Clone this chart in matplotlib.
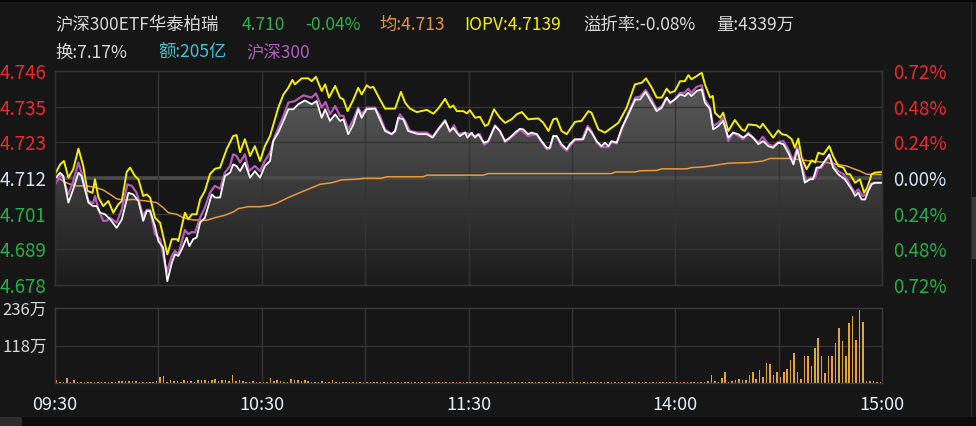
import numpy as np
import matplotlib
matplotlib.use("Agg")
import matplotlib.pyplot as plt
from matplotlib.patches import Polygon, Rectangle
from matplotlib.colors import LinearSegmentedColormap

plt.rcParams['font.family'] = ['Noto Sans CJK SC', 'DejaVu Sans']

# ---- data (minutes since 09:30, trading time; prices) ----
prev_close = 4.712
pct_span = 0.72

price_t = [0, 1.5, 2.4, 3.9, 5.3, 6.8, 7.7, 9.7, 11.1, 12.1,
           13.1, 14.5, 16, 17.9, 19.4, 21.3, 22.7, 24.2, 25.6, 26.6,
           27.6, 29, 30, 31.4, 32.6, 33.9, 34.8, 35.8, 36.8, 38.2,
           39, 40.1, 41.1, 42.1, 43.5, 44.5, 45.5, 46.4, 47.9, 49.3,
           50.8, 51.7, 52.7, 53.7, 55.1, 56.6, 58, 59.5, 60.9, 62.4,
           63.3, 64.8, 66.3, 67.7, 69.2, 70.6, 72.5, 74.5, 75.9, 77.4,
           78.4, 79.8, 81.3, 82.7, 83.7, 85.1, 86.6, 88, 89, 90.4,
           92.9, 94.3, 95.8, 97.7, 98.7, 99.6, 101.1, 102.5, 104, 105.4,
           107.9, 109.6, 111.2, 113.2, 114.6, 115.6, 116.6, 117.5, 119, 119.7,
           120.9, 121.9, 122.8, 124.5, 125.7, 127.7, 129.1, 130.6, 132, 133.5,
           134.9, 135.9, 137.3, 138.3, 139.8, 141.2, 142.7, 143.6, 144.6, 145.6,
           147, 148.5, 149.4, 150.9, 153.3, 154.6, 155.7, 157.2, 158.6, 159.6,
           160.6, 161.5, 163, 164.5, 166.4, 168.4, 169.8, 171.4, 173.2, 174.6,
           176.1, 177.5, 178.5, 179.9, 181.4, 182.8, 183.8, 184.7, 186.2, 187.7,
           188.6, 190.1, 191, 192.5, 193.9, 195.4, 196.8, 198.3, 199.7, 201.2,
           202.6, 204.1, 205.5, 207, 208.4, 209.9, 211.4, 212.8, 214.3, 215.4,
           216.7, 217.6, 219.1, 220, 221, 222, 223.4, 224.7, 225.8, 227.3,
           229.2, 231.2, 232.2, 233.1, 234.1, 235.1, 236, 237, 238, 240]
price = [4.7118, 4.7137, 4.7126, 4.7042, 4.7085, 4.7137, 4.7126, 4.7042, 4.7031, 4.7031,
         4.7010, 4.7005, 4.6989, 4.6962, 4.6989, 4.7073, 4.7068, 4.7047, 4.6984, 4.7015,
         4.7015, 4.6968, 4.6920, 4.6899, 4.6793, 4.6851, 4.6878, 4.6873, 4.6894, 4.6931,
         4.6904, 4.6926, 4.6931, 4.6978, 4.6994, 4.7031, 4.7068, 4.7058, 4.7058, 4.7126,
         4.7137, 4.7163, 4.7158, 4.7142, 4.7169, 4.7121, 4.7142, 4.7121, 4.7158, 4.7174,
         4.7237, 4.7264, 4.7301, 4.7338, 4.7338, 4.7354, 4.7366, 4.7354, 4.7364, 4.7311,
         4.7338, 4.7301, 4.7322, 4.7301, 4.7306, 4.7259, 4.7290, 4.7338, 4.7311, 4.7338,
         4.7340, 4.7306, 4.7269, 4.7259, 4.7269, 4.7311, 4.7306, 4.7269, 4.7264, 4.7259,
         4.7259, 4.7248, 4.7274, 4.7301, 4.7269, 4.7279, 4.7264, 4.7253, 4.7264, 4.7248,
         4.7264, 4.7248, 4.7259, 4.7232, 4.7237, 4.7285, 4.7269, 4.7237, 4.7248, 4.7264,
         4.7276, 4.7274, 4.7259, 4.7264, 4.7259, 4.7237, 4.7216, 4.7216, 4.7253, 4.7253,
         4.7227, 4.7211, 4.7227, 4.7243, 4.7243, 4.7279, 4.7264, 4.7237, 4.7221, 4.7232,
         4.7221, 4.7237, 4.7232, 4.7279, 4.7322, 4.7369, 4.7369, 4.7393, 4.7359, 4.7332,
         4.7343, 4.7375, 4.7359, 4.7369, 4.7385, 4.7380, 4.7390, 4.7380, 4.7396, 4.7401,
         4.7359, 4.7338, 4.7274, 4.7285, 4.7301, 4.7248, 4.7264, 4.7259, 4.7248, 4.7259,
         4.7248, 4.7227, 4.7237, 4.7221, 4.7216, 4.7232, 4.7227, 4.7200, 4.7163, 4.7211,
         4.7153, 4.7105, 4.7116, 4.7116, 4.7153, 4.7153, 4.7174, 4.7195, 4.7153, 4.7132,
         4.7116, 4.7084, 4.7063, 4.7073, 4.7052, 4.7052, 4.7079, 4.7100, 4.7105, 4.7105]

iopv_t = [0, 1.5, 2.6, 3.9, 5.3, 6.8, 8.2, 9.4, 10.9, 11.6,
          12.6, 14, 15.5, 16.9, 18.4, 19.4, 20.8, 21.8, 23.2, 24.2,
          25.6, 26.6, 27.6, 29, 30.5, 32.6, 33.9, 35.3, 35.8, 36.8,
          37.7, 38.7, 39.7, 41.1, 42.1, 43.5, 45, 46.4, 47.9, 49.8,
          51.7, 52.7, 53.7, 55.1, 56.6, 58, 59.5, 60.9, 62.4, 64.8,
          66.3, 67.7, 68.9, 69.6, 71.6, 73.5, 74.5, 75.7, 77.4, 78.4,
          79.5, 81.3, 82.7, 83.7, 84.9, 86.6, 88, 89, 90.5, 91.4,
          92.4, 94.3, 95.8, 98.7, 100.4, 101.6, 103, 105, 107.9, 109.8,
          111.2, 113.2, 114.6, 115.6, 116.6, 118.5, 119.5, 120.4, 121.9, 123.3,
          124.8, 125.7, 127.4, 129.1, 130.6, 132.5, 134, 135.5, 137.3, 140.3,
          141.7, 143.2, 144.6, 145.6, 147, 148.5, 150.9, 152.8, 154.8, 155.7,
          157.7, 159.6, 161.5, 163.5, 165.9, 168.3, 170.3, 171.5, 173.2, 174.6,
          176.1, 177.5, 178.5, 179.9, 181.4, 182.8, 183.8, 184.7, 186.2, 187.7,
          188.6, 190.1, 190.9, 191.5, 193, 193.9, 195.4, 197.3, 199.3, 200.2,
          201.2, 203.6, 204.6, 205.4, 207, 208.4, 209.9, 210.9, 212.3, 213.8,
          214.7, 215.7, 216.7, 218.1, 219.6, 220.6, 221.5, 223, 224.7, 225.8,
          227.3, 228.8, 229.8, 230.7, 232.2, 233.6, 234.8, 235.7, 237, 237.9,
          240]
iopv = [4.7132, 4.7163, 4.7174, 4.7121, 4.7148, 4.7213, 4.7158, 4.7079, 4.7073, 4.7116,
        4.7058, 4.7031, 4.7047, 4.7010, 4.7037, 4.7047, 4.7139, 4.7153, 4.7126, 4.7116,
        4.7063, 4.7068, 4.7058, 4.6994, 4.6978, 4.6878, 4.6926, 4.6926, 4.6920, 4.6968,
        4.7010, 4.6989, 4.7005, 4.7005, 4.7052, 4.7079, 4.7133, 4.7149, 4.7153, 4.7211,
        4.7253, 4.7256, 4.7202, 4.7243, 4.7190, 4.7221, 4.7174, 4.7221, 4.7253, 4.7343,
        4.7385, 4.7406, 4.7431, 4.7417, 4.7436, 4.7436, 4.7427, 4.7441, 4.7396, 4.7417,
        4.7375, 4.7412, 4.7375, 4.7369, 4.7332, 4.7369, 4.7406, 4.7385, 4.7414, 4.7406,
        4.7409, 4.7369, 4.7340, 4.7340, 4.7393, 4.7359, 4.7340, 4.7329, 4.7336, 4.7324,
        4.7340, 4.7371, 4.7343, 4.7350, 4.7332, 4.7332, 4.7325, 4.7335, 4.7311, 4.7314,
        4.7285, 4.7290, 4.7338, 4.7311, 4.7295, 4.7306, 4.7322, 4.7329, 4.7306, 4.7309,
        4.7295, 4.7269, 4.7306, 4.7309, 4.7269, 4.7259, 4.7298, 4.7301, 4.7332, 4.7327,
        4.7274, 4.7264, 4.7279, 4.7295, 4.7343, 4.7417, 4.7422, 4.7436, 4.7406, 4.7375,
        4.7375, 4.7403, 4.7390, 4.7396, 4.7427, 4.7427, 4.7446, 4.7433, 4.7443, 4.7454,
        4.7417, 4.7375, 4.7380, 4.7327, 4.7311, 4.7327, 4.7269, 4.7304, 4.7274, 4.7269,
        4.7290, 4.7287, 4.7279, 4.7292, 4.7269, 4.7248, 4.7271, 4.7259, 4.7256, 4.7243,
        4.7216, 4.7245, 4.7184, 4.7148, 4.7176, 4.7169, 4.7200, 4.7195, 4.7221, 4.7190,
        4.7158, 4.7153, 4.7132, 4.7132, 4.7105, 4.7116, 4.7073, 4.7089, 4.7132, 4.7137,
        4.7139]

# CSI 300 index, drawn on the same percent scale
index_t = [0, 1.9, 3.9, 5.3, 6.8, 7.7, 9.7, 11.1, 11.6, 12.6,
           14, 15, 16, 17.9, 19.4, 21, 22.3, 23.7, 25.6, 26.6,
           27.6, 29, 30.5, 32.4, 33.9, 34.8, 35.8, 37.7, 38.7, 39.7,
           40.6, 42.1, 43.5, 45, 46.4, 47.9, 49.3, 50.8, 51.7, 52.7,
           53.7, 55.1, 56.3, 58, 59.5, 60.9, 62.4, 63.8, 66.3, 67.7,
           69.6, 72.1, 74.5, 75.7, 77.4, 78.5, 79.8, 81.3, 82.7, 83.7,
           85.1, 86.6, 88, 89, 90.5, 92.9, 94.3, 95.8, 97.7, 98.7,
           100.1, 101.6, 103, 105.4, 107.9, 109.6, 113.2, 114.6, 115.8, 117,
           119, 120.4, 121.9, 123.3, 124.5, 125.7, 127.7, 129.1, 130.6, 132,
           134, 134.9, 137.3, 139.8, 141.2, 142.7, 143.6, 144.6, 145.6, 147,
           148.5, 149.4, 150.9, 152.8, 154.6, 155.7, 157.2, 158.6, 160.6, 161.5,
           163, 164.5, 166.4, 168.4, 169.8, 171.4, 173.2, 174.6, 176.1, 177.5,
           178.5, 179.9, 181.4, 182.8, 183.8, 184.7, 186.2, 187.7, 188.6, 190.1,
           191, 192.5, 193.9, 195.4, 196.8, 198.3, 199.7, 201.2, 202.6, 204.1,
           205.4, 207, 208.4, 209.9, 211.4, 212.8, 214.3, 215.4, 216.7, 218,
           219.6, 220.6, 221.5, 222.5, 223.4, 224.7, 225.8, 227.3, 228.8, 230.2,
           231.2, 232.2, 233.1, 234.4, 235.5, 236.5, 237.5, 240]
index_v = [4.7100, 4.7132, 4.7068, 4.7110, 4.7169, 4.7137, 4.7047, 4.7040, 4.7063, 4.7021,
           4.6984, 4.6984, 4.6994, 4.6978, 4.7021, 4.7100, 4.7095, 4.7073, 4.7000, 4.7019,
           4.7019, 4.6942, 4.6926, 4.6820, 4.6873, 4.6889, 4.6878, 4.6955, 4.6942, 4.6949,
           4.6947, 4.6994, 4.7026, 4.7074, 4.7095, 4.7086, 4.7137, 4.7158, 4.7195, 4.7190,
           4.7169, 4.7195, 4.7142, 4.7158, 4.7142, 4.7174, 4.7200, 4.7253, 4.7317, 4.7359,
           4.7364, 4.7382, 4.7375, 4.7388, 4.7343, 4.7361, 4.7322, 4.7348, 4.7317, 4.7317,
           4.7274, 4.7306, 4.7343, 4.7322, 4.7343, 4.7343, 4.7317, 4.7274, 4.7259, 4.7269,
           4.7322, 4.7301, 4.7269, 4.7264, 4.7264, 4.7251, 4.7304, 4.7266, 4.7287, 4.7259,
           4.7264, 4.7259, 4.7253, 4.7259, 4.7225, 4.7234, 4.7287, 4.7269, 4.7234, 4.7245,
           4.7264, 4.7274, 4.7253, 4.7259, 4.7234, 4.7211, 4.7213, 4.7253, 4.7251, 4.7221,
           4.7206, 4.7221, 4.7240, 4.7240, 4.7285, 4.7269, 4.7232, 4.7218, 4.7218, 4.7234,
           4.7230, 4.7274, 4.7327, 4.7375, 4.7378, 4.7399, 4.7369, 4.7338, 4.7348, 4.7375,
           4.7356, 4.7370, 4.7390, 4.7390, 4.7403, 4.7390, 4.7409, 4.7414, 4.7369, 4.7343,
           4.7285, 4.7295, 4.7311, 4.7237, 4.7264, 4.7253, 4.7243, 4.7264, 4.7248, 4.7232,
           4.7251, 4.7227, 4.7221, 4.7234, 4.7237, 4.7211, 4.7174, 4.7218, 4.7163, 4.7110,
           4.7121, 4.7121, 4.7153, 4.7153, 4.7169, 4.7190, 4.7163, 4.7142, 4.7132, 4.7110,
           4.7089, 4.7073, 4.7084, 4.7063, 4.7068, 4.7100, 4.7105, 4.7105]

avg_t = [0, 2.4, 4.4, 6.3, 9.2, 12.1, 14, 16, 17.9, 19.8,
         22.7, 26.6, 29.5, 31.4, 32.9, 35.3, 37.2, 40.1, 44, 46.4,
         49.3, 51.7, 53.2, 56.1, 59.5, 62.4, 64.3, 67.7, 71.6, 74.5,
         76.9, 80.3, 83.2, 87.1, 90, 94.8, 96.3, 106.9, 107.9, 124.3,
         125.7, 161.5, 162.5, 168.3, 169.8, 174.6, 176.1, 183.3, 184.8, 188.1,
         192, 195.4, 201.7, 205.5, 207.5, 213.3, 219.1, 223.9, 229.7, 233.6,
         235.5, 240]
avg_price = [4.7126, 4.7110, 4.7100, 4.7095, 4.7095, 4.7089, 4.7082, 4.7068, 4.7054, 4.7050,
             4.7052, 4.7047, 4.7042, 4.7026, 4.7010, 4.7005, 4.6994, 4.6987, 4.6986, 4.6994,
             4.7002, 4.7012, 4.7023, 4.7029, 4.7029, 4.7033, 4.7040, 4.7058, 4.7076, 4.7089,
             4.7100, 4.7105, 4.7114, 4.7116, 4.7119, 4.7119, 4.7124, 4.7124, 4.7129, 4.7129,
             4.7134, 4.7134, 4.7139, 4.7139, 4.7143, 4.7144, 4.7149, 4.7149, 4.7153, 4.7155,
             4.7161, 4.7167, 4.7169, 4.7174, 4.7182, 4.7182, 4.7174, 4.7169, 4.7158, 4.7142,
             4.7132, 4.7130]

# per-minute volume, in 万 shares
volume = [9, 4, 3, 16, 4, 8, 3, 3, 3, 3,
          3, 3, 3, 3, 3, 3, 3, 3, 5, 6,
          6, 6, 5, 6, 3, 3, 3, 3, 3, 6,
          19, 22, 4, 8, 6, 5, 3, 8, 5, 6,
          4, 8, 8, 10, 6, 8, 12, 6, 8, 10,
          6, 25, 6, 8, 5, 4, 3, 6, 3, 3,
          4, 3, 16, 6, 8, 6, 4, 3, 14, 8,
          10, 6, 8, 6, 3, 4, 3, 6, 4, 3,
          8, 3, 3, 3, 3, 3, 3, 3, 3, 3,
          3, 3, 3, 2, 3, 3, 3, 3, 2, 3,
          3, 3, 3, 3, 3, 3, 3, 3, 3, 3,
          3, 3, 2, 3, 3, 3, 3, 3, 3, 3,
          3, 3, 3, 3, 3, 3, 3, 3, 3, 3,
          3, 3, 3, 3, 3, 3, 3, 3, 3, 3,
          3, 3, 3, 3, 3, 3, 3, 3, 3, 3,
          3, 3, 3, 3, 3, 3, 3, 3, 3, 3,
          3, 3, 3, 3, 3, 3, 3, 3, 3, 3,
          3, 3, 3, 3, 3, 3, 3, 3, 3, 3,
          3, 3, 3, 3, 3, 3, 3, 3, 3, 6,
          25, 6, 4, 16, 35, 4, 6, 8, 12, 10,
          8, 25, 35, 12, 41, 20, 63, 60, 25, 35,
          20, 35, 44, 72, 95, 35, 12, 85, 85, 54,
          110, 142, 85, 30, 85, 85, 126, 173, 132, 85,
          189, 211, 135, 230, 192, 6, 5, 5, 4, 4]

left_labels = ["4.678", "4.689", "4.701", "4.712", "4.723", "4.735", "4.746"]
right_labels = ["0.72%", "0.48%", "0.24%", "0.00%", "0.24%", "0.48%", "0.72%"]
time_pos = [0, 60, 120, 180, 240]
time_labels = ["09:30", "10:30", "11:30", "14:00", "15:00"]
vol_ticks = [118, 236]
vol_labels = ["118万", "236万"]

BG = '#161616'
GRID = '#333333'
RED, GREEN, FLAT = '#f0262c', '#21b14b', '#d2e2f2'
label_colors = [GREEN, GREEN, GREEN, FLAT, RED, RED, RED]

W, H = 976, 426
fig = plt.figure(figsize=(W / 100, H / 100), dpi=100, facecolor=BG)


def px_rect(x, y, w, h):
    # figure-fraction box from top-left pixel coordinates
    return [x / W, 1 - (y + h) / H, w / W, h / H]


# window chrome around the chart
for (x, y, w, h), c in [((0, 0, W, 2), '#050505'),
                        ((0, 417, W, 9), '#0b0b0b'),
                        ((0, 417, 22, 9), '#2b2b2b'),
                        ((971, 2, 1, 415), '#2a2a2a'),
                        ((972, 197, 4, 62), '#3a3a3a')]:
    l, b, ww, hh = px_rect(x, y, w, h)
    fig.add_artist(Rectangle((l, b), ww, hh, transform=fig.transFigure,
                             facecolor=c, edgecolor='none'))

# ---- price panel ----
lo = prev_close * (1 - pct_span / 100)
hi = prev_close * (1 + pct_span / 100)
ticks = np.linspace(lo, hi, 7)

ax = fig.add_axes(px_rect(55, 71, 827, 214))
ax.set_facecolor(BG)
ax.set_xlim(0, 240)
ax.set_ylim(lo, hi)

# gradient fill under the price line
grad = np.linspace(1, 0, 256).reshape(-1, 1)
cmap = LinearSegmentedColormap.from_list('fill', ['#1b1b1b', '#5e5e5e'])
im = ax.imshow(grad, extent=[0, 240, lo, hi], aspect='auto', cmap=cmap,
               origin='upper', zorder=0.5)
verts = [(price_t[0], lo)] + list(zip(price_t, price)) + [(price_t[-1], lo)]
clip = Polygon(verts, closed=True, transform=ax.transData,
               facecolor='none', edgecolor='none')
ax.add_patch(clip)
im.set_clip_path(clip)

for t in ticks[1:-1]:
    ax.axhline(t, color=GRID, lw=1, zorder=1)
ax.axhline(prev_close, color='#4a4a4a', lw=2.6, zorder=1)
for m in range(30, 240, 30):
    ax.axvline(m, color=GRID, lw=1, zorder=1)

ax.plot(avg_t, avg_price, color='#e99a3a', lw=1.1, zorder=3)
ax.plot(iopv_t, iopv, color='#f4ee00', lw=1.4, zorder=3)
ax.plot(index_t, index_v, color='#b55cb8', lw=1.6, zorder=3)
ax.plot(price_t, price, color='#ffffff', lw=1.3, zorder=4)

ax.set_xticks([])
ax.set_yticks(ticks)
ax.set_yticklabels(left_labels)
ax.tick_params(axis='y', length=0, pad=6, labelsize=13.5)
for lab, c in zip(ax.get_yticklabels(), label_colors):
    lab.set_color(c)

ax2 = ax.twinx()
ax2.set_ylim(lo, hi)
ax2.set_yticks(ticks)
ax2.set_yticklabels(right_labels)
ax2.tick_params(axis='y', length=0, pad=8, labelsize=13.5)
for lab, c in zip(ax2.get_yticklabels(), label_colors):
    lab.set_color(c)

for a in (ax, ax2):
    for s in a.spines.values():
        s.set_color(GRID)
        s.set_linewidth(1)

# ---- volume panel ----
axv = fig.add_axes(px_rect(55, 308, 827, 75))
axv.set_facecolor(BG)
axv.set_xlim(0, 240)
axv.set_ylim(0, 236)
axv.axhline(118, color=GRID, lw=1, zorder=1)
for m in range(30, 240, 30):
    axv.axvline(m, color=GRID, lw=1, zorder=1)
axv.bar(np.arange(len(volume)) + 0.5, volume, width=0.45,
        color='#e9a23b', zorder=2)
axv.set_yticks(vol_ticks)
axv.set_yticklabels(vol_labels)
axv.set_xticks(time_pos)
axv.set_xticklabels(time_labels)
axv.tick_params(axis='y', length=0, pad=6, labelsize=12, colors='#d8d8d8')
axv.tick_params(axis='x', length=0, pad=9, labelsize=13, colors='#e8eef4')
for s in axv.spines.values():
    s.set_color('#3a3a3a')
    s.set_linewidth(1)

# ---- header ----
row1 = [(55, "沪深300ETF华泰柏瑞", '#d9d9d9'),
        (242, "4.710", '#2bb34c'),
        (305, "-0.04%", '#2bb34c'),
        (379, "均:4.713", '#e9962e'),
        (464, "IOPV:4.7139", '#f4f000'),
        (583, "溢折率:-0.08%", '#d9d9d9'),
        (716, "量:4339万", '#d9d9d9')]
row2 = [(55, "换:7.17%", '#d9d9d9'),
        (158, "额:205亿", '#3fc4d2'),
        (246, "沪深300", '#b25ec2')]
for y, row in [(25, row1), (53, row2)]:
    for x, s, c in row:
        fig.text(x / W, 1 - y / H, s, color=c, fontsize=12.5,
                 ha='left', va='center')

fig.savefig("out.png", dpi=100, facecolor=BG)
